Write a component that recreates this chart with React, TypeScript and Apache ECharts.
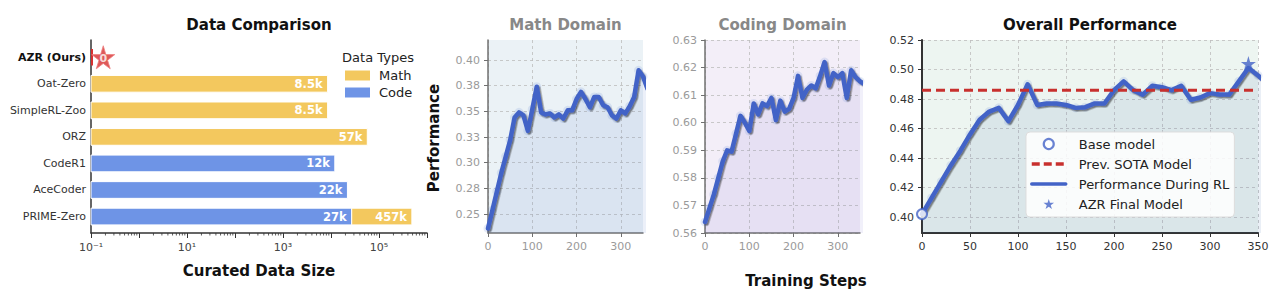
import React, { useEffect, useRef } from 'react';
import * as echarts from 'echarts';

// ---------------- Data ----------------
const CATEGORIES = ['AZR (Ours)', 'Oat-Zero', 'SimpleRL-Zoo', 'ORZ', 'CodeR1', 'AceCoder', 'PRIME-Zero'];
const MATH_SIZES = [0, 8500, 8500, 57000, 0, 0, 457000];
const CODE_SIZES = [0, 0, 0, 0, 12000, 22000, 27000];
const AZR_SIZE_LABEL = '0';
const AZR_STAR_X = 0.18;
const AZR_BAR_END = 0.11;
const SIZE_MIN = 0.1;
const SIZE_MAX = 1e6;
const SIZE_LABEL_EXPONENTS = [-1, 1, 3, 5];

const STEPS = [0, 10, 20, 30, 40, 50, 60, 70, 80, 90, 100, 110, 120, 130, 140, 150, 160, 170, 180, 190, 200, 210, 220, 230, 240, 250, 260, 270, 280, 290, 300, 310, 320, 330, 340, 350, 360];
const MATH_PERF = [0.236, 0.254, 0.272, 0.29, 0.306, 0.322, 0.344, 0.349, 0.346, 0.331, 0.352, 0.374, 0.349, 0.347, 0.348, 0.344, 0.347, 0.343, 0.351, 0.351, 0.362, 0.369, 0.362, 0.354, 0.364, 0.364, 0.356, 0.354, 0.346, 0.343, 0.351, 0.348, 0.355, 0.364, 0.39, 0.384, 0.372];
const CODE_PERF = [0.564, 0.569, 0.574, 0.58, 0.586, 0.59, 0.5895, 0.596, 0.6025, 0.6, 0.597, 0.607, 0.603, 0.607, 0.606, 0.609, 0.601, 0.608, 0.604, 0.605, 0.609, 0.617, 0.609, 0.612, 0.6135, 0.6125, 0.617, 0.622, 0.6135, 0.618, 0.6165, 0.618, 0.609, 0.619, 0.6165, 0.615, 0.614];
const OVERALL_PERF = [0.402, 0.413, 0.424, 0.435, 0.445, 0.456, 0.466, 0.4715, 0.474, 0.465, 0.476, 0.49, 0.476, 0.477, 0.477, 0.476, 0.474, 0.4745, 0.477, 0.477, 0.486, 0.492, 0.486, 0.483, 0.489, 0.488, 0.486, 0.489, 0.4795, 0.481, 0.484, 0.483, 0.483, 0.492, 0.501, 0.496, 0.49];
const BASE_MODEL = [0, 0.402];
const FINAL_MODEL = [340, 0.504];
const PREV_SOTA = 0.486;
const STEP_MAX = 350;

const STEP_TICKS_SMALL = [0, 100, 200, 300];
const MATH_Y_TICKS = [0.25, 0.275, 0.3, 0.325, 0.35, 0.375, 0.4];
const CODE_Y_TICKS = [0.56, 0.57, 0.58, 0.59, 0.6, 0.61, 0.62, 0.63];
const OVERALL_Y_TICKS = [0.4, 0.42, 0.44, 0.46, 0.48, 0.5, 0.52];

// ---------------- Styles ----------------
const FONT = 'DejaVu Sans';
const MATH_COLOR = '#F3C85E';
const CODE_COLOR = '#6E94E6';
const AZR_RED = '#D62F2F';
const LINE_BLUE = '#4363C7';
const SOTA_RED = '#C8302E';
const STAR_PATH = 'path://M50,0 L61,35 L98,35 L68,57 L79,91 L50,70 L21,91 L32,57 L2,35 L39,35 Z';
const BAR_HALF = 0.315;

const SUP: Record<string, string> = { '-': '⁻', '0': '⁰', '1': '¹', '2': '²', '3': '³', '4': '⁴', '5': '⁵', '6': '⁶', '7': '⁷', '8': '⁸', '9': '⁹' };
const sup = (n: number) => String(n).split('').map((c) => SUP[c]).join('');
const fmtK = (v: number) => (v >= 10000 ? (v / 1000).toFixed(0) + 'k' : (v / 1000).toFixed(1) + 'k');

type Bar = { start: number; end: number; cat: number; label: string };

const CODE_BARS: Bar[] = [];
const MATH_BARS: Bar[] = [];
CATEGORIES.forEach((_, i) => {
  if (CODE_SIZES[i] > 0) CODE_BARS.push({ start: SIZE_MIN, end: CODE_SIZES[i], cat: i, label: fmtK(CODE_SIZES[i]) });
  if (MATH_SIZES[i] > 0) {
    const start = CODE_SIZES[i] > 0 ? CODE_SIZES[i] : SIZE_MIN;
    const end = CODE_SIZES[i] > 0 ? CODE_SIZES[i] + MATH_SIZES[i] : MATH_SIZES[i];
    MATH_BARS.push({ start, end, cat: i, label: fmtK(MATH_SIZES[i]) });
  }
});
const AZR_BARS: Bar[] = [{ start: SIZE_MIN, end: AZR_BAR_END, cat: 0, label: '' }];

const MINOR_TICKS: number[] = [];
for (let e = -1; e < 6; e++) for (let m = 2; m <= 9; m++) MINOR_TICKS.push(m * Math.pow(10, e));

function barSeries(name: string, bars: Bar[], color: string, withLabel: boolean) {
  return {
    type: 'custom',
    name,
    xAxisIndex: 0,
    yAxisIndex: 0,
    itemStyle: { color },
    encode: { x: [0, 1], y: 2 },
    data: bars.map((b) => [b.start, b.end, b.cat]),
    renderItem: (params: any, api: any) => {
      const b = bars[params.dataIndex];
      const p0 = api.coord([b.start, b.cat]);
      const p1 = api.coord([b.end, b.cat]);
      const yA = api.coord([b.end, b.cat - BAR_HALF])[1];
      const yB = api.coord([b.end, b.cat + BAR_HALF])[1];
      const children: any[] = [
        {
          type: 'rect',
          shape: { x: p0[0], y: Math.min(yA, yB), width: p1[0] - p0[0], height: Math.abs(yB - yA) },
          style: { fill: color, stroke: withLabel ? '#fff' : color, lineWidth: withLabel ? 1 : 0 },
        },
      ];
      if (withLabel && b.label) {
        children.push({
          type: 'text',
          x: p1[0] - 5,
          y: p1[1],
          style: { text: b.label, fill: '#fff', font: `bold 11.5px "${FONT}"`, textAlign: 'right', textVerticalAlign: 'middle' },
        });
      }
      return { type: 'group', children };
    },
  };
}

function perfSeries(gridIdx: number, values: number[], areaColor: string, name?: string) {
  const data = STEPS.map((s, i) => [s, values[i]]);
  return [
    {
      type: 'line',
      name: name || 'perf' + gridIdx,
      xAxisIndex: gridIdx,
      yAxisIndex: gridIdx,
      data,
      symbol: 'none',
      clip: true,
      z: 3,
      lineStyle: {
        color: LINE_BLUE,
        width: 4.5,
        join: 'round',
        cap: 'round',
        shadowColor: 'rgba(40,40,40,0.55)',
        shadowBlur: 1,
        shadowOffsetX: 1.5,
        shadowOffsetY: 1.5,
      },
      itemStyle: { color: LINE_BLUE },
      areaStyle: { color: areaColor, origin: 'start', shadowColor: 'transparent' },
    },
    {
      type: 'scatter',
      name: 'halo' + gridIdx,
      xAxisIndex: gridIdx,
      yAxisIndex: gridIdx,
      data,
      symbolSize: 9,
      silent: true,
      z: 2,
      itemStyle: { color: 'rgba(110,140,215,0.22)' },
    },
  ];
}

function stepAxis(gridIdx: number, ticks: number[] | null, labelColor: string, lineColor: string, lineWidth: number) {
  return {
    type: 'value',
    gridIndex: gridIdx,
    min: 0,
    max: STEP_MAX,
    interval: ticks ? undefined : 50,
    axisLine: { show: true, onZero: false, lineStyle: { color: lineColor, width: lineWidth } },
    axisTick: { show: true, length: 4, customValues: ticks || undefined, lineStyle: { color: lineColor, width: 1 } },
    axisLabel: { color: labelColor, fontSize: 11, margin: 8, fontFamily: FONT, customValues: ticks || undefined },
    splitLine: { show: true, lineStyle: { color: '#bdbdbd', type: [3, 3], width: 0.8 } },
  };
}

function perfAxis(gridIdx: number, min: number, max: number, ticks: number[], labelColor: string, lineColor: string, lineWidth: number) {
  return {
    type: 'value',
    gridIndex: gridIdx,
    min,
    max,
    axisLine: { show: true, onZero: false, lineStyle: { color: lineColor, width: lineWidth } },
    axisTick: { show: true, length: 4, customValues: ticks, lineStyle: { color: lineColor, width: 1 } },
    axisLabel: {
      color: labelColor,
      fontSize: 11,
      margin: 8,
      fontFamily: FONT,
      customValues: ticks,
      formatter: (v: number) => v.toFixed(2),
    },
    splitLine: { show: true, lineStyle: { color: '#bdbdbd', type: [3, 3], width: 0.8 } },
  };
}

const HIDDEN_SYMBOL = { color: 'transparent', borderColor: 'transparent', borderWidth: 0, opacity: 0 };

export default function App() {
  const ref = useRef<HTMLDivElement>(null);

  useEffect(() => {
    if (!ref.current) return;
    const chart = echarts.init(ref.current, undefined, { renderer: 'svg' });

    const option: any = {
      animation: false,
      backgroundColor: '#ffffff',
      textStyle: { fontFamily: FONT },
      grid: [
        { left: 91, top: 40, width: 336, height: 193, show: false },
        { left: 488, top: 40, width: 155, height: 193, show: true, backgroundColor: '#EBF2F6', borderWidth: 0 },
        { left: 705, top: 40, width: 155, height: 193, show: true, backgroundColor: '#F3EEF8', borderWidth: 0 },
        { left: 922, top: 40, width: 336, height: 193, show: true, backgroundColor: '#EDF5F1', borderWidth: 0 },
      ],
      xAxis: [
        {
          type: 'log',
          logBase: 10,
          gridIndex: 0,
          min: SIZE_MIN,
          max: SIZE_MAX,
          axisLine: { show: true, onZero: false, lineStyle: { color: '#333', width: 1.5 } },
          axisTick: { show: true, length: 5, lineStyle: { color: '#333', width: 1 } },
          axisLabel: {
            color: '#444',
            fontSize: 11,
            margin: 9,
            fontFamily: FONT,
            formatter: (v: number) => {
              const e = Math.round(Math.log10(v));
              return SIZE_LABEL_EXPONENTS.includes(e) ? '10' + sup(e) : '';
            },
          },
          splitLine: { show: false },
        },
        stepAxis(1, STEP_TICKS_SMALL, '#9a9a9a', '#707070', 1.5),
        stepAxis(2, STEP_TICKS_SMALL, '#9a9a9a', '#707070', 1.5),
        stepAxis(3, null, '#333', '#333', 2),
      ],
      yAxis: [
        {
          type: 'value',
          gridIndex: 0,
          inverse: true,
          min: -0.65,
          max: 6.62,
          axisLine: { show: true, onZero: false, lineStyle: { color: '#333', width: 1.5 } },
          axisTick: { show: false, customValues: CATEGORIES.map((_, i) => i) },
          axisLabel: {
            customValues: CATEGORIES.map((_, i) => i),
            color: '#333',
            fontSize: 11,
            margin: 5,
            fontFamily: FONT,
            formatter: (v: number) => {
              const i = Math.round(v);
              return i === 0 ? '{b|' + CATEGORIES[0] + '}' : CATEGORIES[i];
            },
            rich: { b: { fontWeight: 'bold', color: '#111', fontSize: 11, fontFamily: FONT } },
          },
          splitLine: { show: false },
        },
        perfAxis(1, 0.2315, 0.4195, MATH_Y_TICKS, '#9a9a9a', '#707070', 1.5),
        perfAxis(2, 0.56, 0.63, CODE_Y_TICKS, '#9a9a9a', '#707070', 1.5),
        perfAxis(3, 0.3892, 0.52, OVERALL_Y_TICKS, '#333', '#333', 2),
      ],
      legend: [
        {
          left: 345,
          top: 68,
          orient: 'vertical',
          padding: 0,
          itemWidth: 25,
          itemHeight: 10,
          itemGap: 2,
          selectedMode: false,
          textStyle: { fontSize: 13, color: '#222', fontFamily: FONT, lineHeight: 15, padding: [0, 0, 0, 4] },
          data: [
            { name: 'Math', icon: 'rect' },
            { name: 'Code', icon: 'rect' },
          ],
        },
        {
          left: 1026,
          top: 132,
          orient: 'vertical',
          padding: [4, 5, 5, 4],
          itemWidth: 34,
          itemHeight: 10,
          itemGap: 4,
          selectedMode: false,
          backgroundColor: 'rgba(255,255,255,0.85)',
          borderColor: '#dddddd',
          borderWidth: 1,
          borderRadius: 4,
          textStyle: { fontSize: 13, color: '#222', fontFamily: FONT, lineHeight: 16, padding: [0, 0, 0, 8] },
          data: [
            { name: 'Base model', itemStyle: { borderWidth: 2.2 } },
            { name: 'Prev. SOTA Model', itemStyle: HIDDEN_SYMBOL, lineStyle: { width: 3.5, type: [8, 4] } },
            { name: 'Performance During RL', itemStyle: HIDDEN_SYMBOL, lineStyle: { width: 3.5, shadowColor: 'transparent', shadowBlur: 0, shadowOffsetX: 0, shadowOffsetY: 0 } },
            { name: 'AZR Final Model', icon: STAR_PATH },
          ],
        },
      ],
      graphic: [
        { type: 'text', x: 259, y: 25, style: { text: 'Data Comparison', font: `bold 15px "${FONT}"`, fill: '#111', textAlign: 'center', textVerticalAlign: 'middle' } },
        { type: 'text', x: 565.5, y: 25, style: { text: 'Math Domain', font: `bold 15px "${FONT}"`, fill: '#888', textAlign: 'center', textVerticalAlign: 'middle' } },
        { type: 'text', x: 782.5, y: 25, style: { text: 'Coding Domain', font: `bold 15px "${FONT}"`, fill: '#888', textAlign: 'center', textVerticalAlign: 'middle' } },
        { type: 'text', x: 1090, y: 25, style: { text: 'Overall Performance', font: `bold 15px "${FONT}"`, fill: '#111', textAlign: 'center', textVerticalAlign: 'middle' } },
        { type: 'text', x: 378, y: 57.5, style: { text: 'Data Types', font: `13px "${FONT}"`, fill: '#222', textAlign: 'center', textVerticalAlign: 'middle' } },
        { type: 'text', x: 259, y: 271, style: { text: 'Curated Data Size', font: `bold 15px "${FONT}"`, fill: '#111', textAlign: 'center', textVerticalAlign: 'middle' } },
        { type: 'text', x: 806, y: 281, style: { text: 'Training Steps', font: `bold 15px "${FONT}"`, fill: '#111', textAlign: 'center', textVerticalAlign: 'middle' } },
        { type: 'text', x: 434, y: 138, rotation: Math.PI / 2, style: { text: 'Performance', font: `bold 15px "${FONT}"`, fill: '#111', textAlign: 'center', textVerticalAlign: 'middle' } },
      ],
      series: [
        barSeries('Code', CODE_BARS, CODE_COLOR, true),
        barSeries('Math', MATH_BARS, MATH_COLOR, true),
        barSeries('AZR', AZR_BARS, AZR_RED, false),
        {
          type: 'scatter',
          name: 'AZR star',
          xAxisIndex: 0,
          yAxisIndex: 0,
          data: [[AZR_STAR_X, 0]],
          symbol: STAR_PATH,
          symbolSize: 23,
          clip: false,
          z: 5,
          itemStyle: { color: AZR_RED, borderColor: '#EE8080', borderWidth: 1 },
          label: { show: true, position: 'inside', formatter: AZR_SIZE_LABEL, color: '#fff', fontWeight: 'bold', fontSize: 11, fontFamily: FONT, offset: [0, 1] },
        },
        {
          type: 'custom',
          name: 'minorTicks',
          xAxisIndex: 0,
          yAxisIndex: 0,
          silent: true,
          data: MINOR_TICKS.map((v) => [v, 0]),
          renderItem: (params: any, api: any) => {
            const x = api.coord([api.value(0), 0])[0];
            const cs = params.coordSys;
            const yb = cs.y + cs.height;
            return { type: 'line', shape: { x1: x, y1: yb, x2: x, y2: yb + 2.5 }, style: { stroke: '#333', lineWidth: 0.8 } };
          },
        },
        ...perfSeries(1, MATH_PERF, 'rgba(90,120,200,0.16)'),
        ...perfSeries(2, CODE_PERF, 'rgba(100,90,200,0.13)'),
        ...perfSeries(3, OVERALL_PERF, 'rgba(60,100,170,0.15)', 'Performance During RL'),
        {
          type: 'line',
          name: 'Prev. SOTA Model',
          xAxisIndex: 3,
          yAxisIndex: 3,
          data: [[0, PREV_SOTA], [STEP_MAX, PREV_SOTA]],
          symbol: 'none',
          z: 4,
          lineStyle: { color: SOTA_RED, width: 3, type: [9, 5] },
          itemStyle: { color: SOTA_RED },
        },
        {
          type: 'scatter',
          name: 'Base model',
          xAxisIndex: 3,
          yAxisIndex: 3,
          data: [BASE_MODEL],
          symbol: 'circle',
          symbolSize: 10,
          clip: false,
          z: 6,
          itemStyle: { color: '#ffffff', borderColor: LINE_BLUE, borderWidth: 2 },
        },
        {
          type: 'scatter',
          name: 'AZR Final Model',
          xAxisIndex: 3,
          yAxisIndex: 3,
          data: [FINAL_MODEL],
          symbol: STAR_PATH,
          symbolSize: 15,
          clip: false,
          z: 6,
          itemStyle: { color: LINE_BLUE },
        },
      ],
    };

    chart.setOption(option);
    return () => chart.dispose();
  }, []);

  return <div ref={ref} style={{ position: 'fixed', left: 0, top: 0, width: 1280, height: 297, background: '#fff' }} />;
}
